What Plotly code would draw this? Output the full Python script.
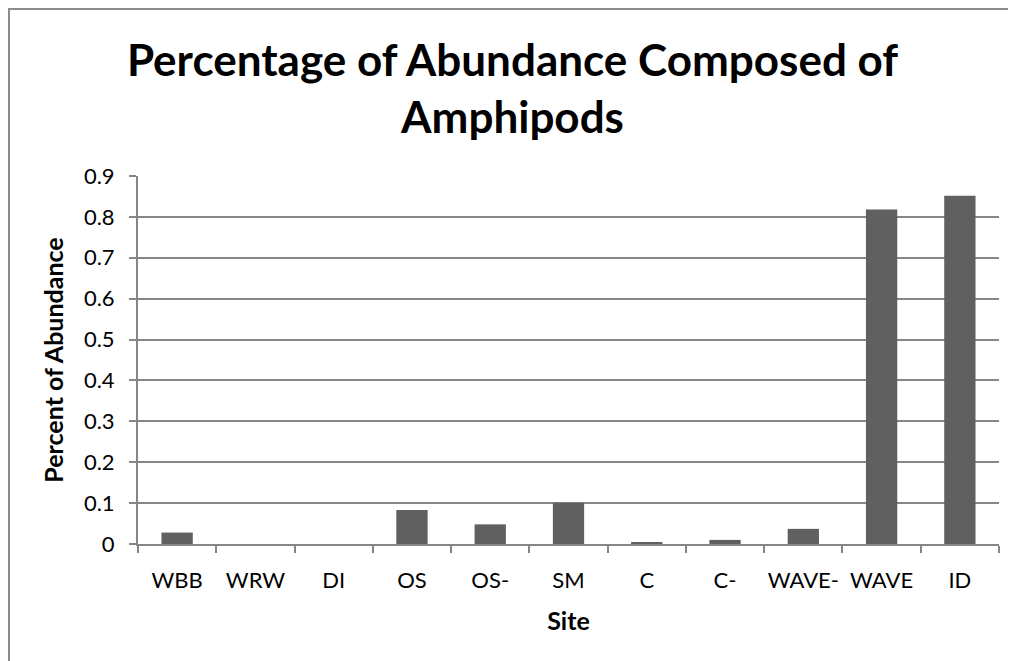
import plotly.graph_objects as go

sites = ["WBB", "WRW", "DI", "OS", "OS-", "SM", "C", "C-", "WAVE-", "WAVE", "ID"]
values = [0.028, 0.0, 0.0, 0.083, 0.048, 0.101, 0.003, 0.010, 0.037, 0.818, 0.852]
y_ticks = [0, 0.1, 0.2, 0.3, 0.4, 0.5, 0.6, 0.7, 0.8, 0.9]
y_tick_text = ["0", "0.1", "0.2", "0.3", "0.4", "0.5", "0.6", "0.7", "0.8", "0.9"]

FONT = "Lato"
GRID = "#868686"

# page has an 8px body margin, so the figure is sized to the remaining view
W, H = 1008, 653
L, R, T, B = 130, 17, 168, 117
PW, PH = W - L - R, H - T - B

fig = go.Figure(
    go.Bar(x=sites, y=values, marker=dict(color="#606060", line=dict(width=0)))
)

fig.update_layout(
    width=W,
    height=H,
    autosize=False,
    margin=dict(l=L, r=R, t=T, b=B),
    paper_bgcolor="white",
    plot_bgcolor="white",
    bargap=0.6,
    showlegend=False,
    font=dict(family=FONT, color="black", size=22),
    title=dict(
        text="Percentage of Abundance Composed of<br>Amphipods",
        font=dict(family=FONT, size=44, weight="bold", color="black"),
        x=0.5005,
        xref="container",
        xanchor="center",
        y=1 - 68 / H,
        yref="container",
        yanchor="middle",
    ),
)

fig.update_xaxes(
    automargin=False,
    tickangle=0,
    showline=True,
    linecolor=GRID,
    linewidth=2,
    ticks="outside",
    ticklen=7,
    tickwidth=2,
    tickcolor=GRID,
    tickson="boundaries",
    ticklabelstandoff=16,
    showgrid=False,
    title=dict(text="Site", font=dict(family=FONT, size=25, weight="bold"), standoff=20),
    tickfont=dict(family=FONT, size=22),
)

fig.update_yaxes(
    automargin=False,
    range=[0, 0.9],
    tickvals=y_ticks,
    ticktext=y_tick_text,
    showline=True,
    linecolor=GRID,
    linewidth=2,
    ticks="outside",
    ticklen=7,
    tickwidth=2,
    tickcolor=GRID,
    ticklabelstandoff=10,
    showgrid=True,
    gridcolor=GRID,
    gridwidth=2,
    zeroline=False,
    title=dict(text="Percent of Abundance", font=dict(family=FONT, size=25, weight="bold"), standoff=13),
    tickfont=dict(family=FONT, size=22),
)

# outer chart border (extends past the right and bottom edges of the view)
fig.add_shape(
    type="rect",
    xref="paper",
    yref="paper",
    x0=(1 - L) / PW,
    x1=(W + 20 - L) / PW,
    y0=-(B + 30) / PH,
    y1=(PH + T - 1) / PH,
    line=dict(color="#8c8c8c", width=2),
    fillcolor="rgba(0,0,0,0)",
    layer="below",
)

fig.write_html("out.html")
